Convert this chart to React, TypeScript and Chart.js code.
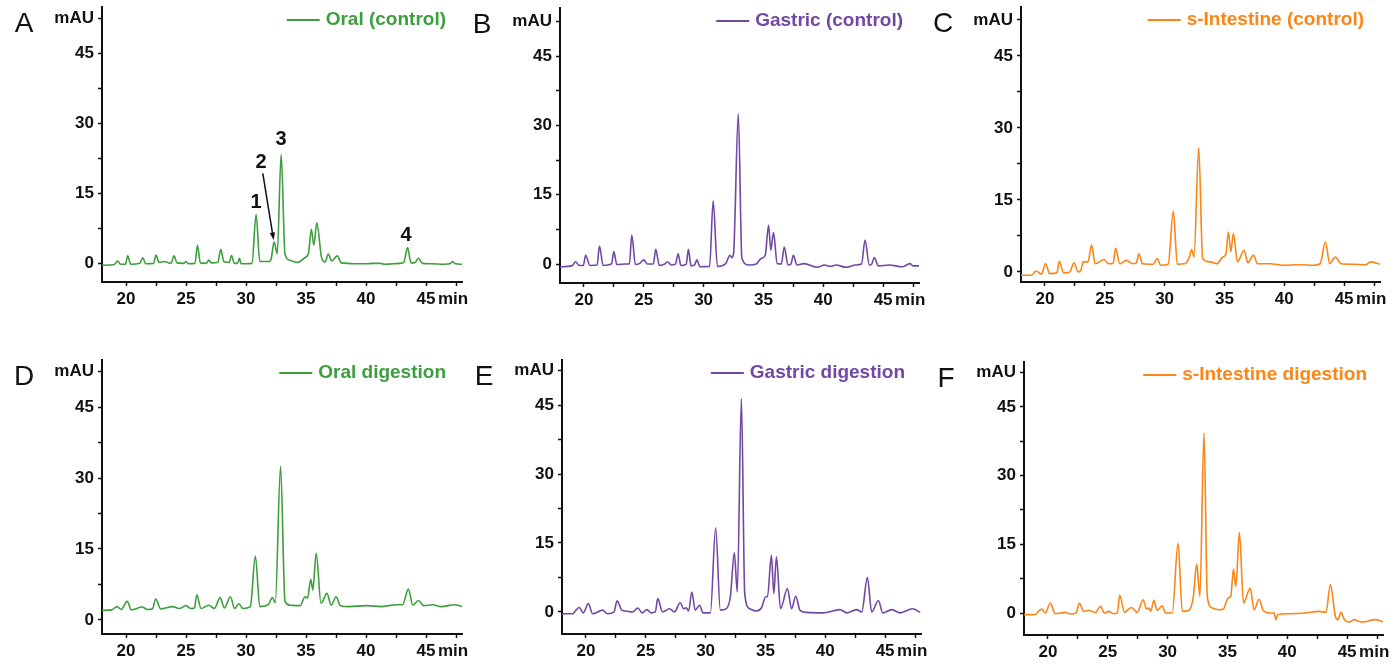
import React, { useEffect, useRef } from 'react';
import { Chart, registerables } from 'chart.js';

Chart.register(...registerables);

const FONT = '"Liberation Sans", Arial, Helvetica, sans-serif';
const GREEN = '#3d9e3d';
const PURPLE = '#7248a4';
const ORANGE = '#fb8516';

// ---- axis ticks ----
const xMajorTicks = [20, 25, 30, 35, 40, 45];
const xMinorTicks = [22.5, 27.5, 32.5, 37.5, 42.5, 47.5];
const xUnitLabel = 'min';
const yMajorTicks = [0, 15, 30, 45];
const yMinorTicks = [7.5, 22.5, 37.5];
const yUnitTick = 52.5;
const yUnitLabel = 'mAU';

// ---- A: Oral (control) ----
const oralControlTime = [18.0, 19.0, 19.3, 19.55, 19.95, 20.14, 20.4, 21.15, 21.4, 21.65, 22.3, 22.5, 22.75, 23.2, 23.75, 24.0, 24.25, 24.8, 25.0, 25.2, 25.75, 25.95, 26.2, 26.7, 26.9, 27.1, 27.65, 27.9, 28.15, 28.6, 28.8, 29.0, 29.3, 29.45, 29.6, 30.5, 30.84, 31.15, 31.9, 32.1, 32.35, 32.6, 32.93, 33.25, 33.7, 34.3, 34.9, 35.2, 35.45, 35.65, 35.9, 36.3, 36.6, 36.85, 37.15, 37.6, 37.95, 38.5, 39.0, 40.1, 40.5, 41.2, 41.5, 42.8, 43.15, 43.46, 43.75, 44.1, 44.36, 44.7, 45.5, 46.5, 47.0, 47.2, 47.45, 48.0];
const oralControlValue = [-0.4, -0.3, 0.5, -0.2, -0.2, 1.6, -0.2, 0, 1.2, -0.1, 0, 1.8, 0.2, 0.4, 0, 1.6, 0.1, 0, 0.4, -0.1, 0, 3.9, 0.1, 0, 0.7, 0.1, 0.2, 3.0, 0.4, 0.2, 1.7, 0.1, 0, 1.1, -0.1, 0, 10.5, 0.4, 0.4, 1.0, 4.6, 2.0, 23.4, 2.0, 0.6, 0.2, 1.2, 2.1, 7.3, 3.9, 8.7, 1.2, 0.3, 2.0, 0.5, 1.6, 0.1, 0, -0.1, -0.1, 0, 0, -0.2, 0, 0.2, 3.4, 0.1, 0.2, 1.1, 0, -0.1, -0.2, -0.1, 0.4, -0.1, -0.2];

// ---- B: Gastric (control) ----
const gastricControlTime = [18.0, 19.0, 19.3, 19.6, 19.95, 20.14, 20.5, 21.1, 21.3, 21.6, 22.3, 22.5, 22.75, 23.5, 23.8, 24.0, 24.3, 24.7, 25.0, 25.3, 25.8, 26.0, 26.3, 26.75, 26.97, 27.3, 27.65, 27.87, 28.1, 28.55, 28.73, 28.95, 29.25, 29.43, 29.7, 30.5, 30.8, 31.15, 31.85, 32.2, 32.35, 32.5, 32.9, 33.2, 33.8, 34.4, 34.8, 35.15, 35.43, 35.62, 35.84, 36.15, 36.5, 36.74, 37.05, 37.3, 37.5, 37.8, 38.4, 39.5, 40.1, 40.6, 41.06, 41.9, 42.7, 43.2, 43.49, 43.85, 44.05, 44.27, 44.6, 45.5, 46.6, 47.25, 47.5, 48.0];
const gastricControlValue = [-0.6, -0.4, 0.5, -0.3, -0.3, 1.9, -0.3, -0.2, 3.9, -0.3, 0, 2.7, -0.1, 0, 0, 6.3, -0.1, 0.2, 0.9, 0, 0, 3.2, -0.3, 0, 0.5, -0.2, 0, 2.2, -0.3, 0, 3.2, -0.4, -0.2, 0.9, -0.6, -0.5, 13.7, -0.5, 0.1, 1.9, 1.4, 2.2, 32.5, 1.2, -0.2, 0, 1.2, 1.9, 8.4, 3.0, 6.8, 0.1, 0, 3.7, -0.2, 0, 1.9, -0.2, 0.1, -0.7, -0.2, -0.5, -0.2, -0.7, -0.2, 0, 5.2, -0.2, 0, 1.4, -0.4, -0.2, -0.6, 0.1, -0.4, -0.4];

// ---- C: s-Intestine (control) ----
const intestineControlTime = [18.0, 18.85, 19.27, 19.7, 20.05, 20.4, 21.0, 21.2, 21.56, 22.07, 22.43, 22.77, 23.0, 23.2, 23.6, 23.9, 24.2, 24.95, 25.3, 25.7, 25.9, 26.26, 26.8, 27.37, 27.65, 27.85, 28.16, 29.05, 29.39, 29.66, 30.3, 30.73, 31.06, 31.7, 32.07, 32.26, 32.46, 32.85, 33.18, 33.8, 34.36, 34.86, 35.13, 35.33, 35.53, 35.75, 36.09, 36.65, 36.96, 37.43, 37.77, 38.8, 39.94, 41.06, 42.46, 43.0, 43.44, 43.8, 44.27, 44.75, 45.8, 46.8, 47.2, 47.98];
const intestineControlValue = [-0.7, -0.7, 0.2, -0.5, 1.7, -0.35, -0.2, 2.2, -0.2, 0, 1.9, 0, 0.35, 2.1, 2.1, 5.6, 1.7, 2.6, 1.7, 1.8, 4.9, 1.7, 2.4, 1.7, 1.9, 3.8, 1.7, 1.6, 2.8, 1.4, 1.6, 12.7, 1.6, 1.7, 3.1, 4.65, 3.1, 25.9, 2.8, 2.1, 1.7, 3.1, 3.8, 8.3, 4.2, 8.0, 2.1, 4.5, 1.9, 3.5, 1.7, 1.7, 1.4, 1.5, 1.4, 1.7, 6.25, 1.7, 3.1, 1.7, 1.6, 1.5, 2.1, 1.6];

// ---- D: Oral digestion ----
const oralDigestionTime = [18.0, 18.8, 19.25, 19.6, 20.1, 20.45, 21.35, 21.76, 22.2, 22.47, 22.9, 23.87, 24.43, 25.0, 25.4, 25.7, 25.9, 26.25, 26.9, 27.37, 27.84, 28.2, 28.7, 29.05, 29.4, 29.75, 30.36, 30.78, 31.15, 31.85, 32.2, 32.44, 32.88, 33.25, 33.67, 34.5, 34.93, 35.13, 35.4, 35.57, 35.85, 36.25, 36.75, 37.1, 37.5, 37.87, 38.57, 40.1, 41.2, 42.6, 43.05, 43.53, 43.9, 44.37, 44.8, 45.57, 46.27, 47.39, 48.0];
const oralDigestionValue = [2.0, 2.1, 2.8, 2.2, 3.9, 2.1, 2.7, 2.2, 2.3, 4.4, 2.3, 2.8, 2.4, 3.0, 2.4, 2.5, 5.3, 2.4, 3.1, 2.4, 4.7, 2.5, 4.9, 2.4, 3.4, 2.4, 2.8, 13.5, 2.8, 3.2, 4.7, 3.65, 32.5, 3.9, 3.1, 3.0, 4.9, 4.6, 8.6, 6.3, 14.1, 3.5, 5.6, 3.1, 4.9, 3.0, 2.8, 3.0, 2.8, 3.2, 3.2, 6.5, 3.1, 4.1, 3.0, 3.2, 2.8, 3.2, 2.8];

// ---- E: Gastric digestion ----
const gastricDigestionTime = [18.0, 18.9, 19.1, 19.44, 19.78, 20.2, 20.56, 21.4, 21.8, 22.35, 22.6, 23.0, 23.35, 23.9, 24.33, 24.7, 25.1, 25.45, 25.8, 26.0, 26.4, 26.98, 27.4, 27.88, 28.16, 28.38, 28.58, 28.85, 29.13, 29.5, 29.78, 30.4, 30.84, 31.23, 31.73, 32.07, 32.4, 32.65, 32.99, 33.27, 33.69, 34.25, 34.67, 35.03, 35.17, 35.5, 35.7, 35.92, 36.26, 36.84, 37.18, 37.54, 37.88, 38.44, 39.83, 41.23, 41.8, 42.6, 43.05, 43.52, 43.88, 44.44, 44.8, 45.56, 46.26, 47.3, 47.93];
const gastricDigestionValue = [-0.4, -0.4, 0.2, 0.95, -0.2, 1.8, -0.4, 0.4, -0.4, 0, 2.4, 0.4, 0.2, 0, 0.87, -0.2, 0.5, -0.2, 0, 2.9, 0, 0.7, 0, 2.0, 0.7, 0.9, 0.2, 4.35, 0.4, 1.45, -0.2, -0.2, 18.3, 0.4, 0.7, 3.3, 12.85, 4.35, 46.4, 4.0, 0.7, 0.2, 0.9, 3.3, 3.3, 12.3, 4.0, 12.0, 0.7, 5.1, 0.7, 3.4, 0.4, -0.1, -0.2, 0.5, -0.2, 0.5, 0, 7.5, 0, 2.5, -0.2, 0.5, -0.2, 0.7, -0.1];

// ---- F: s-Intestine digestion ----
const intestineDigestionTime = [18.0, 18.94, 19.2, 19.5, 19.78, 20.2, 20.6, 21.45, 21.87, 22.35, 22.63, 22.99, 23.4, 23.97, 24.4, 24.72, 25.08, 25.5, 25.8, 26.0, 26.4, 26.98, 27.46, 27.96, 28.24, 28.44, 28.58, 28.86, 29.13, 29.55, 29.83, 30.39, 30.87, 31.23, 31.79, 32.15, 32.43, 32.7, 33.04, 33.32, 33.74, 34.3, 34.66, 35.06, 35.28, 35.5, 35.7, 36.0, 36.34, 36.9, 37.23, 37.65, 38.0, 38.6, 38.9, 39.05, 39.2, 40.03, 41.43, 42.68, 43.24, 43.6, 44.02, 44.22, 44.5, 44.78, 45.2, 45.6, 46.2, 47.35, 48.05];
const intestineDigestionValue = [-0.36, -0.36, 0.36, 0.87, 0, 2.2, -0.15, 0.15, -0.2, 0, 2.2, 0.36, 0.6, 0.1, 1.45, 0, 0.36, -0.15, 0, 3.85, 0.15, 1.2, 0.15, 2.9, 0.87, 1.1, 0.36, 2.75, 0.6, 1.6, 0, 0, 15.2, 0.36, 0.6, 3.6, 10.7, 3.6, 39.3, 3.6, 1.1, 0.7, 0.87, 3.3, 3.6, 9.6, 5.8, 17.6, 2.2, 5.4, 0.7, 3.0, 0.5, 0, 0, -1.45, -0.36, -0.15, 0, 0.36, 0.15, 6.2, -0.7, -1.45, 0.15, -1.45, -2.0, -1.45, -2.0, -1.45, -1.96];

// ---- peak annotations on panel A ----
const peakLabels = ['1', '2', '3', '4'];
const peakLabelTime = [30.83, 31.25, 32.92, 43.33];
const peakLabelValue = [13.1, 21.7, 26.6, 6.0];
const arrowFrom = [31.4, 19.3];
const arrowTo = [32.3, 5.0];

type Panel = {
  letter: string;
  legend: string;
  color: string;
  times: number[];
  values: number[];
  yMin: number;
  yMax: number;
  canvas: [number, number, number, number];
  area: [number, number, number, number];
  annotate?: boolean;
};

const panels: Panel[] = [
  { letter: 'A', legend: 'Oral (control)', color: GREEN, times: oralControlTime, values: oralControlValue, yMin: -4, yMax: 55, canvas: [0, -13, 476, 338], area: [102, 7, 462, 282], annotate: true },
  { letter: 'B', legend: 'Gastric (control)', color: PURPLE, times: gastricControlTime, values: gastricControlValue, yMin: -4.1, yMax: 55.4, canvas: [466, -12, 470, 337], area: [560, 8, 919, 283] },
  { letter: 'C', legend: 's-Intestine (control)', color: ORANGE, times: intestineControlTime, values: intestineControlValue, yMin: -2.1, yMax: 55.2, canvas: [926, -13, 472, 338], area: [1021, 7, 1380, 282] },
  { letter: 'D', legend: 'Oral digestion', color: GREEN, times: oralDigestionTime, values: oralDigestionValue, yMin: -3, yMax: 55, canvas: [0, 340, 476, 325], area: [102, 360, 462, 634] },
  { letter: 'E', legend: 'Gastric digestion', color: PURPLE, times: gastricDigestionTime, values: gastricDigestionValue, yMin: -4.8, yMax: 54.8, canvas: [466, 340, 470, 325], area: [562, 360, 921, 634] },
  { letter: 'F', legend: 's-Intestine digestion', color: ORANGE, times: intestineDigestionTime, values: intestineDigestionValue, yMin: -4.8, yMax: 54.8, canvas: [926, 342, 472, 323], area: [1024, 362, 1383, 635] },
];

const TICK_LEN = 4;
const X_PAD = 3;
const TICK_FONT_SIZE = 17;
const X_AXIS_H = 30;

function decorPlugin(p: Panel) {
  return {
    id: 'decor' + p.letter,
    afterDraw(chart: any) {
      const { ctx, chartArea } = chart;
      const xs = chart.scales.x;
      const ys = chart.scales.y;
      ctx.save();
      // panel letter
      ctx.fillStyle = '#111';
      ctx.font = `normal 28px ${FONT}`;
      ctx.textAlign = 'center';
      ctx.textBaseline = 'middle';
      ctx.fillText(p.letter, chartArea.left - 78, chartArea.top + 17);
      // legend
      ctx.font = `bold 19px ${FONT}`;
      ctx.textAlign = 'right';
      const tx = chartArea.right - 16;
      const ty = chartArea.top + 13;
      ctx.fillStyle = p.color;
      ctx.fillText(p.legend, tx, ty);
      const w = ctx.measureText(p.legend).width;
      ctx.strokeStyle = p.color;
      ctx.lineWidth = 2;
      ctx.beginPath();
      ctx.moveTo(tx - w - 6 - 33, ty);
      ctx.lineTo(tx - w - 6, ty);
      ctx.stroke();
      // x unit
      const lastMajor = xMajorTicks[xMajorTicks.length - 1];
      ctx.font = `bold ${TICK_FONT_SIZE}px ${FONT}`;
      ctx.fillStyle = '#111';
      ctx.textAlign = 'left';
      ctx.fillText(xUnitLabel, xs.getPixelForValue(lastMajor) + 12, xs.top + TICK_LEN + X_PAD + (TICK_FONT_SIZE * 1.2) / 2);
      // annotations
      if (p.annotate) {
        ctx.font = `bold 20px ${FONT}`;
        ctx.textAlign = 'center';
        ctx.fillStyle = '#111';
        peakLabels.forEach((t, i) => {
          ctx.fillText(t, xs.getPixelForValue(peakLabelTime[i]), ys.getPixelForValue(peakLabelValue[i]));
        });
        const x1 = xs.getPixelForValue(arrowFrom[0]);
        const y1 = ys.getPixelForValue(arrowFrom[1]);
        const x2 = xs.getPixelForValue(arrowTo[0]);
        const y2 = ys.getPixelForValue(arrowTo[1]);
        const ang = Math.atan2(y2 - y1, x2 - x1);
        const hl = 8;
        ctx.strokeStyle = '#111';
        ctx.lineWidth = 1.5;
        ctx.beginPath();
        ctx.moveTo(x1, y1);
        ctx.lineTo(x2 - Math.cos(ang) * hl * 0.8, y2 - Math.sin(ang) * hl * 0.8);
        ctx.stroke();
        ctx.beginPath();
        ctx.moveTo(x2, y2);
        ctx.lineTo(x2 - hl * Math.cos(ang - 0.35), y2 - hl * Math.sin(ang - 0.35));
        ctx.lineTo(x2 - hl * Math.cos(ang + 0.35), y2 - hl * Math.sin(ang + 0.35));
        ctx.closePath();
        ctx.fill();
      }
      ctx.restore();
    },
  };
}

function PanelChart({ p }: { p: Panel }) {
  const ref = useRef<HTMLCanvasElement | null>(null);
  useEffect(() => {
    if (!ref.current) return;
    const [cx, cy, cw, ch] = p.canvas;
    const [L, T, R, B] = p.area;
    const yAxisW = L - cx;
    const padTop = T - cy;
    const padRight = cx + cw - R;
    const padBottom = cy + ch - B - X_AXIS_H;
    const tickFont = { family: FONT, size: TICK_FONT_SIZE, weight: 'bold' as const };
    const chart = new Chart(ref.current, {
      type: 'line',
      data: {
        datasets: [
          {
            label: p.legend,
            data: p.times.map((t, i) => ({ x: t, y: p.values[i] })),
            borderColor: p.color,
            backgroundColor: p.color,
            borderWidth: 1.6,
            pointRadius: 0,
            cubicInterpolationMode: 'monotone',
            fill: false,
          },
        ],
      },
      options: {
        animation: false,
        responsive: false,
        devicePixelRatio: 1,
        layout: { autoPadding: false, padding: { left: 0, top: padTop, right: padRight, bottom: padBottom } },
        plugins: { legend: { display: false }, tooltip: { enabled: false } },
        scales: {
          x: {
            type: 'linear',
            min: 18,
            max: 48,
            afterBuildTicks: (scale: any) => {
              scale.ticks = [...xMajorTicks, ...xMinorTicks].sort((a, b) => a - b).map((v) => ({ value: v }));
            },
            afterFit: (scale: any) => {
              scale.height = X_AXIS_H;
            },
            ticks: {
              autoSkip: false,
              maxRotation: 0,
              padding: X_PAD,
              color: '#111',
              font: tickFont,
              callback: (v: any) => (xMajorTicks.includes(Number(v)) ? String(v) : ''),
            },
            grid: { drawOnChartArea: false, drawTicks: true, tickLength: TICK_LEN, tickColor: '#111', tickWidth: 1.5 },
            border: { display: true, color: '#111', width: 2 },
          },
          y: {
            type: 'linear',
            min: p.yMin,
            max: p.yMax,
            afterBuildTicks: (scale: any) => {
              scale.ticks = [...yMajorTicks, ...yMinorTicks, yUnitTick].sort((a, b) => a - b).map((v) => ({ value: v }));
            },
            afterFit: (scale: any) => {
              scale.width = yAxisW;
            },
            ticks: {
              autoSkip: false,
              padding: 4,
              color: '#111',
              font: tickFont,
              callback: (v: any) => {
                const n = Number(v);
                if (n === yUnitTick) return yUnitLabel;
                return yMajorTicks.includes(n) ? String(n) : '';
              },
            },
            grid: { drawOnChartArea: false, drawTicks: true, tickLength: TICK_LEN, tickColor: '#111', tickWidth: 1.5 },
            border: { display: true, color: '#111', width: 2 },
          },
        },
      } as any,
      plugins: [decorPlugin(p)],
    });
    return () => chart.destroy();
  }, [p]);
  const [cx, cy, cw, ch] = p.canvas;
  return <canvas ref={ref} width={cw} height={ch} style={{ position: 'absolute', left: cx, top: cy, width: cw, height: ch }} />;
}

export default function App() {
  return (
    <div style={{ position: 'absolute', left: 0, top: 0, width: 1398, height: 665, background: '#fff', overflow: 'hidden' }}>
      {panels.map((p) => (
        <PanelChart key={p.letter} p={p} />
      ))}
    </div>
  );
}
